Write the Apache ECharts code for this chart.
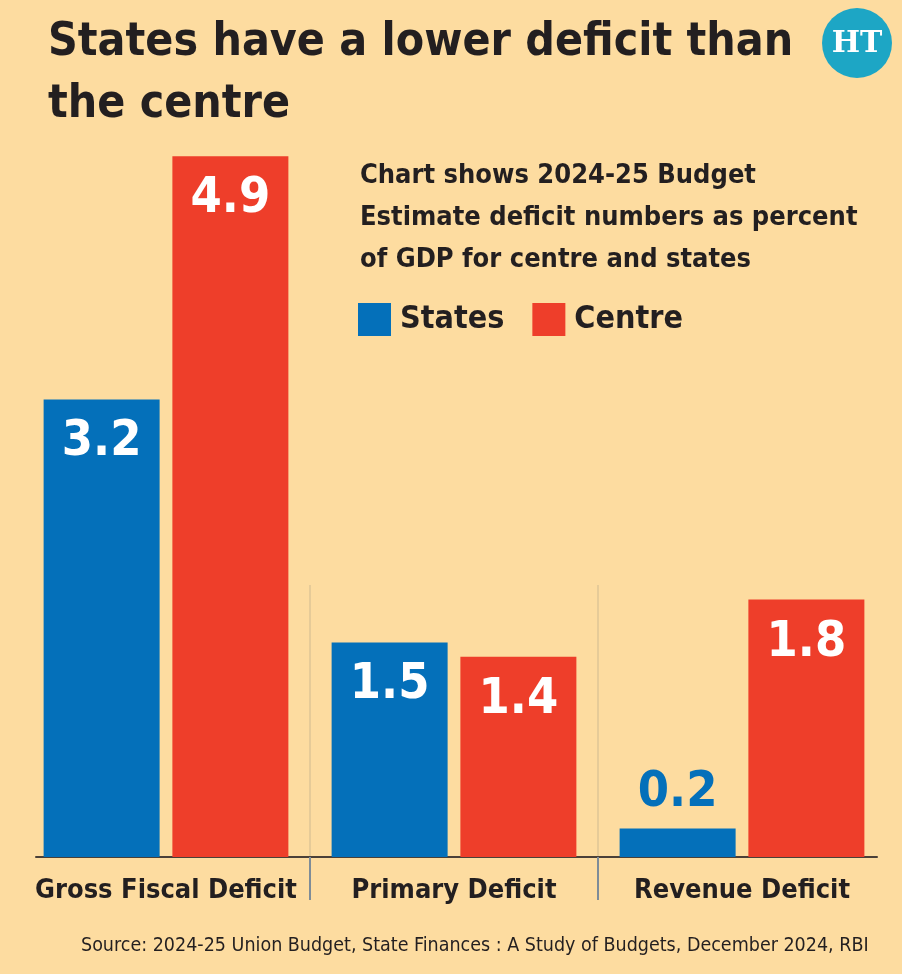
<!DOCTYPE html>
<html>
<head>
<meta charset="utf-8">
<script src="https://cdn.jsdelivr.net/npm/echarts@6/dist/echarts.min.js"></script>
<style>
  html, body { margin: 0; padding: 0; background: #fddca0; }
  #chart { width: 902px; height: 974px; }
</style>
</head>
<body>
<div id="chart"></div>
<script>
// data
const categories = ["Gross Fiscal Deficit", "Primary Deficit", "Revenue Deficit"];
const statesValues = [3.2, 1.5, 0.2];
const centreValues = [4.9, 1.4, 1.8];
const seriesNames = ["States", "Centre"];

const BLUE = "#0470ba";
const RED = "#ee3e2a";
const INK = "#231f20";
const FONT = '"DejaVu Sans Condensed", "Liberation Sans Narrow", Roboto, sans-serif';

const chart = echarts.init(document.getElementById("chart"));

// small bars get their label on top, in the bar colour
function withLabels(values, color) {
  return values.map(v => v < 0.5
    ? { value: v, label: { position: "top", color: color, distance: 10 } }
    : v);
}

chart.setOption({
  backgroundColor: "#fddca0",
  animation: false,
  textStyle: { fontFamily: FONT },
  title: [
    {
      text: "States have a lower deficit than\nthe centre",
      left: 43,
      top: 7,
      textStyle: { fontFamily: FONT, fontSize: 46, fontWeight: "bold", color: INK, lineHeight: 62 }
    },
    {
      text: "Chart shows 2024-25 Budget\nEstimate deficit numbers as percent\nof GDP for centre and states",
      left: 355,
      top: 150,
      textStyle: { fontFamily: FONT, fontSize: 27, fontWeight: "bold", color: INK, lineHeight: 42 }
    },
    {
      text: "Source: 2024-25 Union Budget, State Finances : A Study of Budgets, December 2024, RBI",
      left: 76,
      top: 931,
      textStyle: { fontFamily: FONT, fontSize: 19.5, fontWeight: "normal", color: INK }
    }
  ],
  legend: {
    data: seriesNames,
    left: 353,
    top: 298,
    icon: "rect",
    itemWidth: 33,
    itemHeight: 33,
    itemGap: 28,
    textStyle: { fontFamily: FONT, fontSize: 32, fontWeight: "bold", color: INK, padding: [0, 0, 0, 4] }
  },
  graphic: [
    {
      type: "circle",
      shape: { cx: 857, cy: 43, r: 35 },
      style: { fill: "#1da6c5" }
    },
    {
      type: "text",
      x: 857,
      y: 44,
      style: {
        text: "HT",
        fill: "#ffffff",
        font: 'bold 30px "DejaVu Serif", serif',
        align: "center",
        verticalAlign: "middle"
      }
    }
  ],
  grid: [
    { left: 22, right: 16, top: 142, bottom: 117 },   // bars
    { left: 310, right: 304, top: 585, bottom: 117 }, // group separators
    { left: 36, right: 25, top: 142, bottom: 117 }    // baseline
  ],
  xAxis: [
    {
      type: "category",
      gridIndex: 0,
      data: categories,
      axisLine: { show: false },
      axisTick: { show: false },
      axisLabel: {
        interval: 0,
        margin: 20,
        fontFamily: FONT,
        fontSize: 27,
        fontWeight: "bold",
        color: INK
      }
    },
    {
      type: "value",
      gridIndex: 1,
      min: 0,
      max: 1,
      interval: 1,
      axisLine: { show: false },
      axisLabel: { show: false },
      axisTick: { show: true, length: 43, lineStyle: { color: "#7e8c98", width: 2 } },
      splitLine: { show: true, lineStyle: { color: "#e6cb98", width: 2 } }
    },
    {
      type: "value",
      gridIndex: 2,
      axisLine: { show: true, onZero: false, lineStyle: { color: "#4a4038", width: 2 } },
      axisLabel: { show: false },
      axisTick: { show: false },
      splitLine: { show: false }
    }
  ],
  yAxis: [
    { type: "value", gridIndex: 0, min: 0, max: 5, show: false },
    { type: "value", gridIndex: 1, show: false },
    { type: "value", gridIndex: 2, show: false }
  ],
  series: [
    {
      name: seriesNames[0],
      type: "bar",
      xAxisIndex: 0,
      yAxisIndex: 0,
      data: withLabels(statesValues, BLUE),
      barWidth: 116,
      barGap: "11%",
      itemStyle: { color: BLUE },
      label: {
        show: true,
        position: "insideTop",
        distance: 18,
        color: "#ffffff",
        fontFamily: FONT,
        fontSize: 50,
        fontWeight: "bold"
      }
    },
    {
      name: seriesNames[1],
      type: "bar",
      xAxisIndex: 0,
      yAxisIndex: 0,
      data: withLabels(centreValues, RED),
      barWidth: 116,
      barGap: "11%",
      itemStyle: { color: RED },
      label: {
        show: true,
        position: "insideTop",
        distance: 18,
        color: "#ffffff",
        fontFamily: FONT,
        fontSize: 50,
        fontWeight: "bold"
      }
    }
  ]
});
</script>
</body>
</html>
